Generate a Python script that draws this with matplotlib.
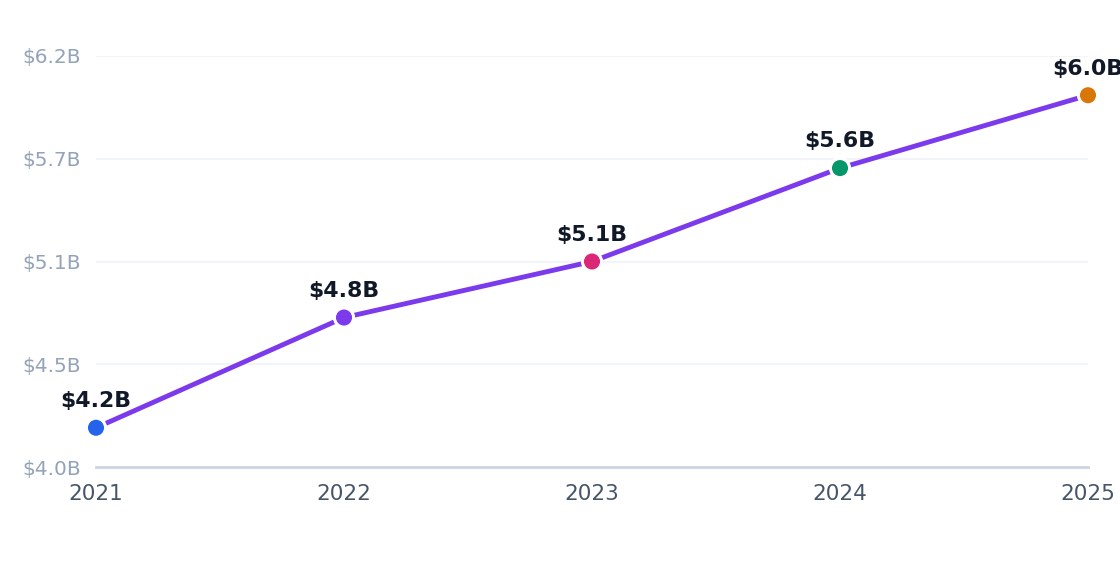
import matplotlib
matplotlib.use("Agg")
import matplotlib.pyplot as plt
import numpy as np

years = ['2021', '2022', '2023', '2024', '2025']
revenue = [4.21, 4.80, 5.10, 5.60, 5.99]
point_labels = ['$4.2B', '$4.8B', '$5.1B', '$5.6B', '$6.0B']
point_colors = ['#2563eb', '#7c3aed', '#db2777', '#059669', '#d97706']
y_ticks = np.linspace(4.0, 6.2, 5)
y_tick_labels = ['$4.0B', '$4.5B', '$5.1B', '$5.7B', '$6.2B']

x = np.arange(len(years))

fig = plt.figure(figsize=(11.2, 5.72), dpi=100)
ax = fig.add_axes([96 / 1120, 1 - 467 / 572, (1088 - 96) / 1120, (467 - 56) / 572])

ax.plot(x, revenue, color='#7c3aed', linewidth=3.5, zorder=3, solid_capstyle='round', clip_on=False)
ax.scatter(x, revenue, s=190, c=point_colors, edgecolors='white', linewidths=2.2, zorder=4, clip_on=False)

for xi, yi, lab in zip(x, revenue, point_labels):
    ax.annotate(lab, xy=(xi, yi), xytext=(0, 12), textcoords='offset points',
                ha='center', va='bottom', fontsize=15.8, fontweight='bold', color='#111827')

ax.set_xlim(0, len(years) - 1)
ax.set_ylim(4.0, 6.2)
ax.set_xticks(x)
ax.set_xticklabels(years, fontsize=15.5, color='#475569')
ax.set_yticks(y_ticks)
ax.set_yticklabels(y_tick_labels, fontsize=14.5, color='#94a3b8')
ax.tick_params(axis='both', length=0)
ax.tick_params(axis='y', pad=11)
ax.tick_params(axis='x', pad=12)

ax.grid(axis='y', color='#f1f5f9', linewidth=1.5)
ax.set_axisbelow(True)
for side in ['top', 'right', 'left']:
    ax.spines[side].set_visible(False)
ax.spines['bottom'].set_color('#cbd5e1')
ax.spines['bottom'].set_linewidth(2)
ax.spines['bottom'].set_zorder(2)

plt.savefig('out.png', dpi=100)
